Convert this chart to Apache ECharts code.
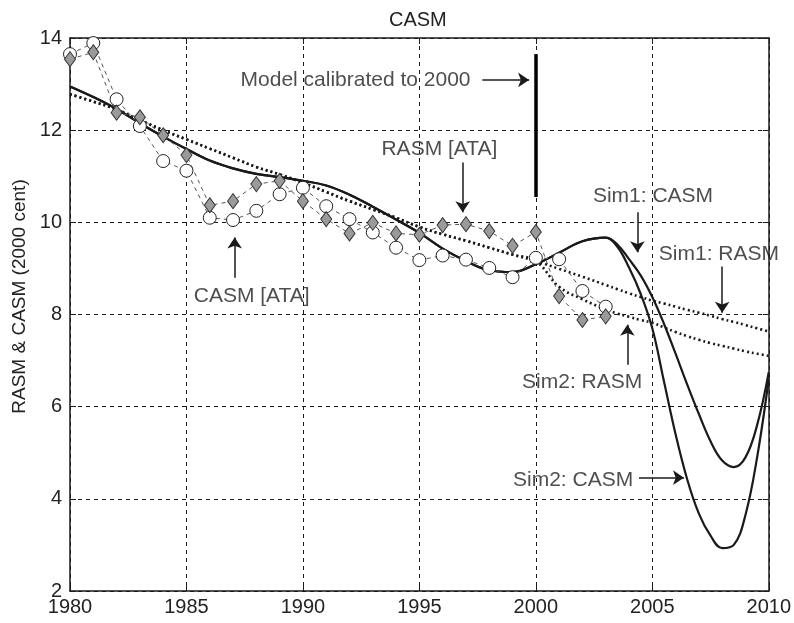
<!DOCTYPE html>
<html>
<head>
<meta charset="utf-8">
<title>CASM</title>
<script src="https://cdn.jsdelivr.net/npm/echarts@6/dist/echarts.min.js"></script>
<style>
  html, body { margin: 0; padding: 0; background: #fff; }
  #chart { width: 794px; height: 623px; }
</style>
</head>
<body>
<div id="chart"></div>
<script>
// observed values (ATA), one point per year
const dataYears = [1980, 1981, 1982, 1983, 1984, 1985, 1986, 1987, 1988, 1989, 1990, 1991,
  1992, 1993, 1994, 1995, 1996, 1997, 1998, 1999, 2000, 2001, 2002, 2003]
const casmAta = [13.65, 13.89, 12.67, 12.09, 11.33, 11.12, 10.10, 10.05, 10.25, 10.61, 10.75, 10.35,
  10.07, 9.78, 9.45, 9.18, 9.28, 9.19, 9.01, 8.81, 9.23, 9.20, 8.51, 8.17]
const rasmAta = [13.54, 13.69, 12.38, 12.28, 11.89, 11.46, 10.37, 10.46, 10.83, 10.90, 10.46, 10.07,
  9.76, 9.99, 9.76, 9.73, 9.94, 9.96, 9.81, 9.49, 9.79, 8.40, 7.88, 7.96]

// model runs (calibrated to 2000)
const simYears = [1980, 1981, 1982, 1983, 1984, 1985, 1986, 1987, 1988, 1989, 1990, 1991,
  1992, 1993, 1994, 1995, 1996, 1997, 1998, 1999, 2000, 2001, 2002, 2003,
  2003.5, 2004, 2004.5, 2005, 2005.5, 2006, 2006.5, 2007, 2007.5, 2008, 2008.5, 2009, 2009.5, 2010]
const sim1Casm = [12.95, 12.72, 12.46, 12.15, 11.86, 11.59, 11.34, 11.17, 11.05, 10.98, 10.90, 10.80,
  10.60, 10.34, 10.06, 9.77, 9.43, 9.16, 8.96, 8.92, 9.09, 9.34, 9.59, 9.67,
  9.52, 9.20, 8.85, 8.38, 7.80, 7.15, 6.48, 5.84, 5.25, 4.83, 4.69, 4.90, 5.60, 6.75]
const sim2Casm = [12.95, 12.72, 12.46, 12.15, 11.86, 11.59, 11.34, 11.17, 11.05, 10.98, 10.90, 10.80,
  10.60, 10.34, 10.06, 9.77, 9.43, 9.16, 8.96, 8.92, 9.09, 9.34, 9.59, 9.67,
  9.47, 9.02, 8.45, 7.70, 6.55, 5.40, 4.42, 3.68, 3.20, 2.93, 3.00, 3.65, 4.90, 6.60]
const sim1Rasm = [12.78, 12.62, 12.45, 12.22, 12.00, 11.80, 11.60, 11.40, 11.20, 11.04, 10.86, 10.66,
  10.46, 10.28, 10.10, 9.90, 9.74, 9.60, 9.45, 9.30, 9.16, 8.99, 8.82, 8.64,
  8.55, 8.46, 8.38, 8.30, 8.24, 8.17, 8.10, 8.04, 7.97, 7.90, 7.84, 7.77, 7.70, 7.63]
const sim2Rasm = [12.78, 12.62, 12.45, 12.22, 12.00, 11.80, 11.60, 11.40, 11.20, 11.04, 10.86, 10.66,
  10.46, 10.28, 10.10, 9.90, 9.74, 9.60, 9.45, 9.30, 9.16, 8.60, 8.33, 8.11,
  8.02, 7.95, 7.88, 7.82, 7.72, 7.62, 7.53, 7.45, 7.38, 7.32, 7.26, 7.20, 7.15, 7.10]

// annotations, in data units
const noteTexts = ['Model calibrated to 2000', 'RASM [ATA]', 'CASM [ATA]', 'Sim1: CASM',
  'Sim1: RASM', 'Sim2: RASM', 'Sim2: CASM']
const noteX = [1992.26, 1995.86, 1987.8, 2005.03, 2007.86, 2001.99, 2001.6]
const noteY = [13.09, 11.59, 8.39, 10.57, 9.30, 6.54, 4.41]
const arrowFrom = [[1997.7, 13.09], [1996.86, 11.3], [1987.07, 8.8], [2004.36, 10.22],
  [2008.0, 9.04], [2003.93, 6.91], [2004.43, 4.46]]
const arrowTo = [[1999.71, 13.09], [1996.86, 10.22], [1987.07, 9.67], [2004.36, 9.35],
  [2008.0, 8.04], [2003.93, 7.78], [2006.36, 4.46]]
const calibLine = [[2000, 10.55], [2000, 13.65]]

const font = "'Liberation Sans', Arial, sans-serif"
const ink = '#1a1a1a'

function pairs(xs, ys) {
  return xs.map((x, i) => [x, ys[i]])
}

function axisBase(extra) {
  return Object.assign({
    type: 'value',
    axisLine: { show: true, onZero: false, lineStyle: { color: ink, width: 1.5 } },
    axisTick: { show: true, inside: true, length: 6, lineStyle: { color: ink } },
    axisLabel: { show: false },
    splitLine: { show: false }
  }, extra)
}

const gridLine = { show: true, lineStyle: { color: ink, width: 1, type: [4, 4] } }
const tickLabel = {
  show: true, color: '#222', fontSize: 20, fontFamily: font,
  showMinLabel: true, showMaxLabel: true,
  formatter: (v) => String(v)
}

function simSeries(name, values, dotted) {
  return {
    name,
    type: 'line',
    data: pairs(simYears, values),
    smooth: 0.4,
    symbol: 'none',
    lineStyle: dotted
      ? { color: ink, width: 2.6, type: [2, 3] }
      : { color: ink, width: 2.2 }
  }
}

const chart = echarts.init(document.getElementById('chart'))

chart.setOption({
  animation: false,
  backgroundColor: '#fff',
  title: {
    text: 'CASM',
    left: 384,
    top: 5,
    textStyle: { fontFamily: font, fontSize: 20, fontWeight: 'normal', color: '#222' }
  },
  grid: { left: 70, right: 24, top: 38, bottom: 32 },
  xAxis: [
    axisBase({
      position: 'bottom', min: 1980, max: 2010, interval: 5,
      axisLabel: Object.assign({ margin: 6 }, tickLabel),
      splitLine: gridLine
    }),
    axisBase({ position: 'top', min: 1980, max: 2010, interval: 5 })
  ],
  yAxis: [
    axisBase({
      position: 'left', min: 2, max: 14, interval: 2,
      axisLabel: Object.assign({ margin: 8 }, tickLabel),
      splitLine: gridLine,
      name: 'RASM & CASM (2000 cent)',
      nameLocation: 'middle',
      nameGap: 33,
      nameTextStyle: { fontFamily: font, fontSize: 19, color: '#222', padding: [0, 0, 0, 36] }
    }),
    axisBase({ position: 'right', min: 2, max: 14, interval: 2 })
  ],
  series: [
    simSeries('Sim1: RASM', sim1Rasm, true),
    simSeries('Sim2: RASM', sim2Rasm, true),
    simSeries('Sim1: CASM', sim1Casm, false),
    simSeries('Sim2: CASM', sim2Casm, false),
    {
      name: 'CASM [ATA]',
      type: 'line',
      data: pairs(dataYears, casmAta),
      symbol: 'circle',
      symbolSize: 13,
      itemStyle: { color: '#fff', borderColor: '#222', borderWidth: 1 },
      lineStyle: { color: '#555', width: 1, type: [4, 4] }
    },
    {
      name: 'RASM [ATA]',
      type: 'line',
      data: pairs(dataYears, rasmAta),
      symbol: 'diamond',
      symbolSize: [11, 15],
      itemStyle: { color: '#9a9a9a', borderColor: '#333', borderWidth: 1 },
      lineStyle: { color: '#555', width: 1, type: [4, 4] }
    },
    {
      name: 'calibration',
      type: 'line',
      data: [],
      markLine: {
        silent: true,
        symbol: ['none', 'none'],
        label: { show: false },
        lineStyle: { color: '#000', width: 3.5, type: 'solid' },
        data: [[{ coord: calibLine[0] }, { coord: calibLine[1] }]]
      }
    },
    {
      name: 'arrows',
      type: 'line',
      data: [],
      markLine: {
        silent: true,
        symbol: ['none', 'arrow'],
        symbolSize: 11,
        label: { show: false },
        lineStyle: { color: ink, width: 1.5, type: 'solid' },
        itemStyle: { color: ink },
        data: arrowFrom.map((p, i) => [{ coord: p }, { coord: arrowTo[i] }])
      }
    },
    {
      name: 'notes',
      type: 'scatter',
      data: noteTexts.map((t, i) => [noteX[i], noteY[i], t]),
      symbolSize: 1,
      itemStyle: { color: 'rgba(0,0,0,0)' },
      label: {
        show: true,
        position: 'inside',
        formatter: (p) => p.value[2],
        fontFamily: font,
        fontSize: 21,
        color: '#222'
      }
    }
  ]
})
</script>
</body>
</html>
